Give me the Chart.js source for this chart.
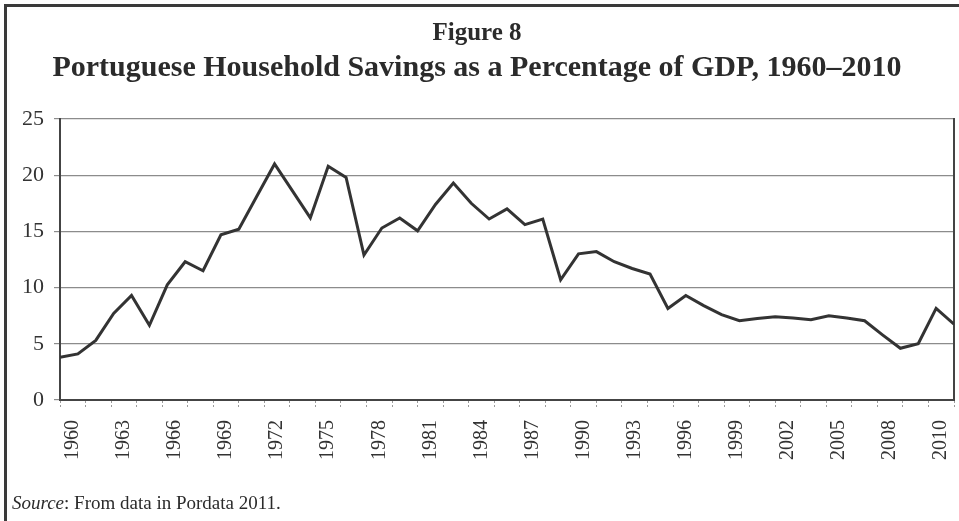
<!DOCTYPE html>
<html>
<head>
<meta charset="utf-8">
<script src="https://cdn.jsdelivr.net/npm/chart.js@4"></script>
<style>
  html, body { margin: 0; padding: 0; background: #ffffff; }
  #wrap { position: relative; width: 959px; height: 521px; overflow: hidden; background: #ffffff; }
  #c { position: absolute; left: 0; top: 0; }
  #frame { position: absolute; left: 4px; top: 4px; width: 960px; height: 520px;
           border-left: 3px solid #3a3a3a; border-top: 3px solid #3a3a3a; pointer-events: none; }
  #source { position: absolute; left: 12px; top: 492px; font-family: "Liberation Serif", serif;
            font-size: 19px; color: #2b2b2b; white-space: nowrap; }
</style>
</head>
<body>
<div id="wrap">
  <canvas id="c" width="959" height="521"></canvas>
  <div id="frame"></div>
  <div id="source"><i>Source</i>: From data in Pordata 2011.</div>
</div>
<script>
// ---- data ----
const years = [1960,1961,1962,1963,1964,1965,1966,1967,1968,1969,
               1970,1971,1972,1973,1974,1975,1976,1977,1978,1979,
               1980,1981,1982,1983,1984,1985,1986,1987,1988,1989,
               1990,1991,1992,1993,1994,1995,1996,1997,1998,1999,
               2000,2001,2002,2003,2004,2005,2006,2007,2008,2009,2010];
const savings = [3.8, 4.1, 5.3, 7.7, 9.3, 6.65, 10.25, 12.3, 11.5, 14.7,
                 15.2, 18.1, 21.0, 18.6, 16.2, 20.8, 19.8, 12.9, 15.3, 16.2,
                 15.05, 17.4, 19.3, 17.5, 16.1, 17.0, 15.6, 16.1, 10.7, 13.0,
                 13.2, 12.3, 11.7, 11.2, 8.15, 9.3, 8.4, 7.6, 7.05, 7.25,
                 7.4, 7.3, 7.15, 7.5, 7.3, 7.05, 5.8, 4.6, 5.0, 8.15, 6.75];
const tickLabels = ['1960','1963','1966','1969','1972','1975','1978','1981','1984',
                    '1987','1990','1993','1996','1999','2002','2005','2008','2010'];
const yTicks = [0, 5, 10, 15, 20, 25];

const titleText = 'Figure 8';
const subtitleText = 'Portuguese Household Savings as a Percentage of GDP, 1960\u20132010';

// category slots for the label/tick axis: a label on every second slot
const xSlots = [];
tickLabels.forEach((t, i) => { xSlots.push(t); if (i < tickLabels.length - 1) xSlots.push(''); });

const points = years.map((yr, i) => ({ x: yr, y: savings[i] }));

const serif = '"Liberation Serif", "Times New Roman", serif';

new Chart(document.getElementById('c'), {
  type: 'line',
  data: {
    datasets: [{
      data: points,
      xAxisID: 'x',
      yAxisID: 'y',
      borderColor: '#333333',
      borderWidth: 3,
      pointRadius: 0,
      tension: 0,
      fill: false
    }]
  },
  options: {
    responsive: false,
    animation: false,
    layout: { padding: { left: 0, right: 5, top: 0, bottom: 50 } },
    plugins: {
      legend: { display: false },
      tooltip: { enabled: false },
      title: {
        display: true,
        text: titleText,
        color: '#2b2b2b',
        font: { family: serif, size: 25, weight: 'bold', lineHeight: 1.2 },
        padding: { top: 19, bottom: 0 }
      },
      subtitle: {
        display: true,
        text: subtitleText,
        color: '#2b2b2b',
        font: { family: serif, size: 30, weight: 'bold', lineHeight: 1.2 },
        padding: { top: 1, bottom: 33 }
      }
    },
    scales: {
      x: {
        type: 'linear',
        min: years[0],
        max: years[years.length - 1],
        display: false
      },
      xc: {
        type: 'category',
        labels: xSlots,
        position: 'bottom',
        offset: true,
        grid: {
          offset: true,
          drawOnChartArea: false,
          drawTicks: true,
          tickLength: 8,
          color: '#9a9a9a',
          tickBorderDash: [2, 2]
        },
        border: { display: true, color: '#444444', width: 2 },
        ticks: {
          autoSkip: false,
          maxRotation: 90,
          minRotation: 90,
          padding: 12,
          color: '#333333',
          font: { family: serif, size: 20 }
        },
        afterFit(s) { s.height = 71; s.paddingLeft = 0; s.paddingRight = 0; }
      },
      y: {
        min: 0,
        max: 25,
        afterBuildTicks(s) { s.ticks = yTicks.map(v => ({ value: v })); },
        ticks: {
          padding: 10,
          color: '#333333',
          font: { family: serif, size: 22 }
        },
        grid: { color: '#8c8c8c', lineWidth: 1.2, tickLength: 6 },
        border: { display: true, color: '#444444', width: 2 },
        afterFit(s) { s.width = 60; }
      },
      y2: {
        position: 'right',
        min: 0,
        max: 25,
        ticks: { display: false },
        grid: { display: false, drawTicks: false },
        border: { display: true, color: '#444444', width: 2 },
        afterFit(s) { s.width = 0; }
      }
    }
  }
});
</script>
</body>
</html>
